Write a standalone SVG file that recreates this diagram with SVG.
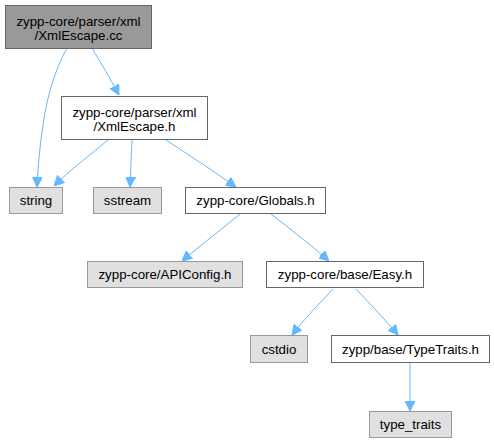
<svg xmlns="http://www.w3.org/2000/svg" width="494" height="443" viewBox="0 0 494 443">
<defs>
<marker id="ah" viewBox="0 0 10 10" refX="10" refY="5" markerWidth="10" markerHeight="10" markerUnits="userSpaceOnUse" orient="auto">
<path d="M0,0 L10,5 L0,10 Z" fill="#63b8ff" stroke="#63b8ff"/>
</marker>
<style>
.n rect{fill:#ffffff;stroke:#666666;stroke-width:1}
.g rect{fill:#e0e0e0;stroke:#999999;stroke-width:1}
.c rect{fill:#999999;stroke:#666666;stroke-width:1}
text{font-family:"Liberation Sans",Arial,Helvetica,sans-serif;font-size:13.3px;fill:#000000;text-anchor:middle}
.e path{fill:none;stroke:#63b8ff;stroke-width:1;marker-end:url(#ah)}
</style>
</defs>
<rect width="494" height="443" fill="#ffffff"/>
<g id="edges" class="e">
<path d="M67,48 C56,68 47,95 43,125 C40,145 38,165 37,187"/>
<path d="M92,48 C100,62 109,76 119,95"/>
<path d="M108,140 C90,155 70,170 54,186"/>
<path d="M132,140 C131,155 131,170 130,187"/>
<path d="M166,140 C189,155 212,170 236,187"/>
<path d="M240,214 C222,229 202,244 182,261"/>
<path d="M271,214 C290,229 310,244 329,261"/>
<path d="M333,289 C319,304 305,318 292,335"/>
<path d="M356,289 C370,304 384,318 398,335"/>
<path d="M410,362 L410,411"/>
</g>
<g id="node_cc" class="c">
<rect x="5.5" y="5.5" width="146" height="43"/>
<text x="78.5" y="26">zypp-core/parser/xml</text>
<text x="78.5" y="39.5">/XmlEscape.cc</text>
</g>
<g id="node_h" class="n">
<rect x="61.5" y="96.5" width="146" height="43"/>
<text x="134.5" y="117">zypp-core/parser/xml</text>
<text x="134.5" y="130.5">/XmlEscape.h</text>
</g>
<g id="node_string" class="g">
<rect x="9.5" y="187.5" width="53" height="26"/>
<text x="36" y="205">string</text>
</g>
<g id="node_sstream" class="g">
<rect x="93.5" y="187.5" width="68" height="26"/>
<text x="127.5" y="205">sstream</text>
</g>
<g id="node_globals" class="n">
<rect x="185.5" y="187.5" width="140" height="26"/>
<text x="255.5" y="205">zypp-core/Globals.h</text>
</g>
<g id="node_apiconfig" class="g">
<rect x="87.5" y="261.5" width="155" height="26"/>
<text x="165" y="279">zypp-core/APIConfig.h</text>
</g>
<g id="node_easy" class="n">
<rect x="266.5" y="261.5" width="157" height="26"/>
<text x="345" y="279">zypp-core/base/Easy.h</text>
</g>
<g id="node_cstdio" class="g">
<rect x="250.5" y="335.5" width="57" height="27"/>
<text x="279" y="353.5">cstdio</text>
</g>
<g id="node_typetraits_h" class="n">
<rect x="331.5" y="335.5" width="158" height="27"/>
<text x="410.5" y="353.5">zypp/base/TypeTraits.h</text>
</g>
<g id="node_type_traits" class="g">
<rect x="369.5" y="411.5" width="82" height="26"/>
<text x="410.5" y="429">type_traits</text>
</g>
</svg>
